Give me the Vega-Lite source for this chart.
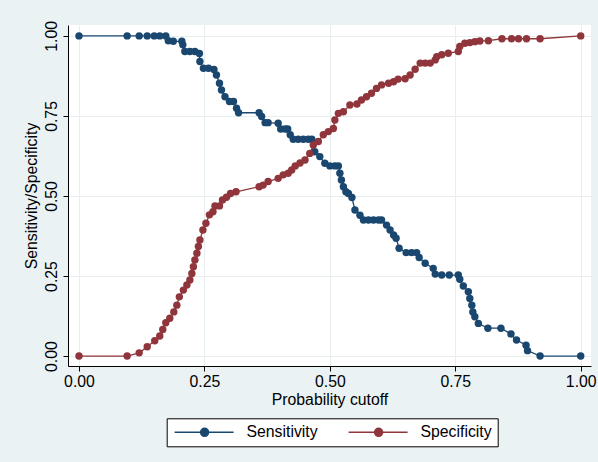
{
  "$schema": "https://vega.github.io/schema/vega-lite/v6.json",
  "width": 523,
  "height": 341,
  "autosize": "none",
  "padding": {"left": 68, "top": 25, "right": 7, "bottom": 96},
  "background": "#EAF2F3",
  "view": {"fill": "white", "stroke": null},
  "config": {
    "font": "Liberation Sans",
    "axis": {
      "domainColor": "black",
      "domainWidth": 1,
      "tickColor": "black",
      "tickSize": 5,
      "tickWidth": 1,
      "labelFont": "Liberation Sans",
      "labelFontSize": 15.8,
      "labelColor": "black",
      "titleFont": "Liberation Sans",
      "titleFontSize": 15.8,
      "titleFontWeight": "normal",
      "titleColor": "black",
      "gridColor": "#E6EEF0",
      "gridWidth": 1
    }
  },
  "data": {
    "values": [
      {"cutoff": 0, "rate": 1, "curve": "Sensitivity"},
      {"cutoff": 0.096, "rate": 1, "curve": "Sensitivity"},
      {"cutoff": 0.12, "rate": 1, "curve": "Sensitivity"},
      {"cutoff": 0.136, "rate": 1, "curve": "Sensitivity"},
      {"cutoff": 0.150, "rate": 1, "curve": "Sensitivity"},
      {"cutoff": 0.161, "rate": 1, "curve": "Sensitivity"},
      {"cutoff": 0.173, "rate": 1, "curve": "Sensitivity"},
      {"cutoff": 0.178, "rate": 0.985, "curve": "Sensitivity"},
      {"cutoff": 0.188, "rate": 0.983, "curve": "Sensitivity"},
      {"cutoff": 0.205, "rate": 0.983, "curve": "Sensitivity"},
      {"cutoff": 0.207, "rate": 0.972, "curve": "Sensitivity"},
      {"cutoff": 0.211, "rate": 0.951, "curve": "Sensitivity"},
      {"cutoff": 0.221, "rate": 0.951, "curve": "Sensitivity"},
      {"cutoff": 0.231, "rate": 0.951, "curve": "Sensitivity"},
      {"cutoff": 0.240, "rate": 0.945, "curve": "Sensitivity"},
      {"cutoff": 0.241, "rate": 0.920, "curve": "Sensitivity"},
      {"cutoff": 0.248, "rate": 0.899, "curve": "Sensitivity"},
      {"cutoff": 0.258, "rate": 0.899, "curve": "Sensitivity"},
      {"cutoff": 0.269, "rate": 0.895, "curve": "Sensitivity"},
      {"cutoff": 0.274, "rate": 0.878, "curve": "Sensitivity"},
      {"cutoff": 0.280, "rate": 0.852, "curve": "Sensitivity"},
      {"cutoff": 0.284, "rate": 0.831, "curve": "Sensitivity"},
      {"cutoff": 0.291, "rate": 0.810, "curve": "Sensitivity"},
      {"cutoff": 0.300, "rate": 0.795, "curve": "Sensitivity"},
      {"cutoff": 0.308, "rate": 0.795, "curve": "Sensitivity"},
      {"cutoff": 0.314, "rate": 0.774, "curve": "Sensitivity"},
      {"cutoff": 0.318, "rate": 0.760, "curve": "Sensitivity"},
      {"cutoff": 0.359, "rate": 0.760, "curve": "Sensitivity"},
      {"cutoff": 0.364, "rate": 0.748, "curve": "Sensitivity"},
      {"cutoff": 0.371, "rate": 0.729, "curve": "Sensitivity"},
      {"cutoff": 0.377, "rate": 0.729, "curve": "Sensitivity"},
      {"cutoff": 0.397, "rate": 0.727, "curve": "Sensitivity"},
      {"cutoff": 0.402, "rate": 0.709, "curve": "Sensitivity"},
      {"cutoff": 0.411, "rate": 0.709, "curve": "Sensitivity"},
      {"cutoff": 0.416, "rate": 0.709, "curve": "Sensitivity"},
      {"cutoff": 0.421, "rate": 0.691, "curve": "Sensitivity"},
      {"cutoff": 0.427, "rate": 0.677, "curve": "Sensitivity"},
      {"cutoff": 0.437, "rate": 0.677, "curve": "Sensitivity"},
      {"cutoff": 0.447, "rate": 0.677, "curve": "Sensitivity"},
      {"cutoff": 0.457, "rate": 0.677, "curve": "Sensitivity"},
      {"cutoff": 0.464, "rate": 0.677, "curve": "Sensitivity"},
      {"cutoff": 0.470, "rate": 0.638, "curve": "Sensitivity"},
      {"cutoff": 0.480, "rate": 0.623, "curve": "Sensitivity"},
      {"cutoff": 0.490, "rate": 0.602, "curve": "Sensitivity"},
      {"cutoff": 0.500, "rate": 0.594, "curve": "Sensitivity"},
      {"cutoff": 0.510, "rate": 0.594, "curve": "Sensitivity"},
      {"cutoff": 0.517, "rate": 0.594, "curve": "Sensitivity"},
      {"cutoff": 0.520, "rate": 0.571, "curve": "Sensitivity"},
      {"cutoff": 0.523, "rate": 0.550, "curve": "Sensitivity"},
      {"cutoff": 0.527, "rate": 0.529, "curve": "Sensitivity"},
      {"cutoff": 0.532, "rate": 0.513, "curve": "Sensitivity"},
      {"cutoff": 0.537, "rate": 0.508, "curve": "Sensitivity"},
      {"cutoff": 0.544, "rate": 0.495, "curve": "Sensitivity"},
      {"cutoff": 0.550, "rate": 0.456, "curve": "Sensitivity"},
      {"cutoff": 0.560, "rate": 0.440, "curve": "Sensitivity"},
      {"cutoff": 0.567, "rate": 0.425, "curve": "Sensitivity"},
      {"cutoff": 0.577, "rate": 0.425, "curve": "Sensitivity"},
      {"cutoff": 0.587, "rate": 0.425, "curve": "Sensitivity"},
      {"cutoff": 0.597, "rate": 0.425, "curve": "Sensitivity"},
      {"cutoff": 0.603, "rate": 0.425, "curve": "Sensitivity"},
      {"cutoff": 0.613, "rate": 0.409, "curve": "Sensitivity"},
      {"cutoff": 0.620, "rate": 0.394, "curve": "Sensitivity"},
      {"cutoff": 0.627, "rate": 0.378, "curve": "Sensitivity"},
      {"cutoff": 0.632, "rate": 0.368, "curve": "Sensitivity"},
      {"cutoff": 0.638, "rate": 0.337, "curve": "Sensitivity"},
      {"cutoff": 0.652, "rate": 0.323, "curve": "Sensitivity"},
      {"cutoff": 0.663, "rate": 0.323, "curve": "Sensitivity"},
      {"cutoff": 0.673, "rate": 0.323, "curve": "Sensitivity"},
      {"cutoff": 0.678, "rate": 0.308, "curve": "Sensitivity"},
      {"cutoff": 0.690, "rate": 0.290, "curve": "Sensitivity"},
      {"cutoff": 0.706, "rate": 0.274, "curve": "Sensitivity"},
      {"cutoff": 0.710, "rate": 0.256, "curve": "Sensitivity"},
      {"cutoff": 0.723, "rate": 0.253, "curve": "Sensitivity"},
      {"cutoff": 0.738, "rate": 0.253, "curve": "Sensitivity"},
      {"cutoff": 0.756, "rate": 0.253, "curve": "Sensitivity"},
      {"cutoff": 0.759, "rate": 0.240, "curve": "Sensitivity"},
      {"cutoff": 0.766, "rate": 0.219, "curve": "Sensitivity"},
      {"cutoff": 0.776, "rate": 0.201, "curve": "Sensitivity"},
      {"cutoff": 0.779, "rate": 0.180, "curve": "Sensitivity"},
      {"cutoff": 0.783, "rate": 0.159, "curve": "Sensitivity"},
      {"cutoff": 0.785, "rate": 0.138, "curve": "Sensitivity"},
      {"cutoff": 0.789, "rate": 0.123, "curve": "Sensitivity"},
      {"cutoff": 0.796, "rate": 0.102, "curve": "Sensitivity"},
      {"cutoff": 0.815, "rate": 0.087, "curve": "Sensitivity"},
      {"cutoff": 0.841, "rate": 0.087, "curve": "Sensitivity"},
      {"cutoff": 0.861, "rate": 0.069, "curve": "Sensitivity"},
      {"cutoff": 0.872, "rate": 0.050, "curve": "Sensitivity"},
      {"cutoff": 0.891, "rate": 0.034, "curve": "Sensitivity"},
      {"cutoff": 0.894, "rate": 0.017, "curve": "Sensitivity"},
      {"cutoff": 0.919, "rate": 0, "curve": "Sensitivity"},
      {"cutoff": 1.0, "rate": 0, "curve": "Sensitivity"},
      {"cutoff": 0, "rate": 0, "curve": "Specificity"},
      {"cutoff": 0.096, "rate": 0, "curve": "Specificity"},
      {"cutoff": 0.120, "rate": 0.010, "curve": "Specificity"},
      {"cutoff": 0.136, "rate": 0.029, "curve": "Specificity"},
      {"cutoff": 0.151, "rate": 0.048, "curve": "Specificity"},
      {"cutoff": 0.161, "rate": 0.0625, "curve": "Specificity"},
      {"cutoff": 0.167, "rate": 0.083, "curve": "Specificity"},
      {"cutoff": 0.173, "rate": 0.104, "curve": "Specificity"},
      {"cutoff": 0.181, "rate": 0.118, "curve": "Specificity"},
      {"cutoff": 0.189, "rate": 0.138, "curve": "Specificity"},
      {"cutoff": 0.195, "rate": 0.159, "curve": "Specificity"},
      {"cutoff": 0.200, "rate": 0.185, "curve": "Specificity"},
      {"cutoff": 0.208, "rate": 0.206, "curve": "Specificity"},
      {"cutoff": 0.215, "rate": 0.222, "curve": "Specificity"},
      {"cutoff": 0.221, "rate": 0.2375, "curve": "Specificity"},
      {"cutoff": 0.225, "rate": 0.258, "curve": "Specificity"},
      {"cutoff": 0.228, "rate": 0.279, "curve": "Specificity"},
      {"cutoff": 0.231, "rate": 0.300, "curve": "Specificity"},
      {"cutoff": 0.235, "rate": 0.321, "curve": "Specificity"},
      {"cutoff": 0.238, "rate": 0.342, "curve": "Specificity"},
      {"cutoff": 0.241, "rate": 0.3625, "curve": "Specificity"},
      {"cutoff": 0.247, "rate": 0.394, "curve": "Specificity"},
      {"cutoff": 0.253, "rate": 0.415, "curve": "Specificity"},
      {"cutoff": 0.260, "rate": 0.441, "curve": "Specificity"},
      {"cutoff": 0.267, "rate": 0.451, "curve": "Specificity"},
      {"cutoff": 0.271, "rate": 0.469, "curve": "Specificity"},
      {"cutoff": 0.280, "rate": 0.469, "curve": "Specificity"},
      {"cutoff": 0.286, "rate": 0.4875, "curve": "Specificity"},
      {"cutoff": 0.294, "rate": 0.496, "curve": "Specificity"},
      {"cutoff": 0.302, "rate": 0.508, "curve": "Specificity"},
      {"cutoff": 0.313, "rate": 0.513, "curve": "Specificity"},
      {"cutoff": 0.359, "rate": 0.529, "curve": "Specificity"},
      {"cutoff": 0.367, "rate": 0.534, "curve": "Specificity"},
      {"cutoff": 0.377, "rate": 0.545, "curve": "Specificity"},
      {"cutoff": 0.397, "rate": 0.555, "curve": "Specificity"},
      {"cutoff": 0.407, "rate": 0.566, "curve": "Specificity"},
      {"cutoff": 0.417, "rate": 0.571, "curve": "Specificity"},
      {"cutoff": 0.424, "rate": 0.581, "curve": "Specificity"},
      {"cutoff": 0.431, "rate": 0.594, "curve": "Specificity"},
      {"cutoff": 0.4405, "rate": 0.603, "curve": "Specificity"},
      {"cutoff": 0.4505, "rate": 0.6125, "curve": "Specificity"},
      {"cutoff": 0.460, "rate": 0.633, "curve": "Specificity"},
      {"cutoff": 0.467, "rate": 0.659, "curve": "Specificity"},
      {"cutoff": 0.477, "rate": 0.670, "curve": "Specificity"},
      {"cutoff": 0.487, "rate": 0.691, "curve": "Specificity"},
      {"cutoff": 0.497, "rate": 0.701, "curve": "Specificity"},
      {"cutoff": 0.507, "rate": 0.711, "curve": "Specificity"},
      {"cutoff": 0.510, "rate": 0.7375, "curve": "Specificity"},
      {"cutoff": 0.517, "rate": 0.758, "curve": "Specificity"},
      {"cutoff": 0.527, "rate": 0.763, "curve": "Specificity"},
      {"cutoff": 0.540, "rate": 0.784, "curve": "Specificity"},
      {"cutoff": 0.554, "rate": 0.7875, "curve": "Specificity"},
      {"cutoff": 0.563, "rate": 0.800, "curve": "Specificity"},
      {"cutoff": 0.573, "rate": 0.810, "curve": "Specificity"},
      {"cutoff": 0.583, "rate": 0.821, "curve": "Specificity"},
      {"cutoff": 0.593, "rate": 0.836, "curve": "Specificity"},
      {"cutoff": 0.603, "rate": 0.847, "curve": "Specificity"},
      {"cutoff": 0.617, "rate": 0.852, "curve": "Specificity"},
      {"cutoff": 0.627, "rate": 0.857, "curve": "Specificity"},
      {"cutoff": 0.636, "rate": 0.865, "curve": "Specificity"},
      {"cutoff": 0.650, "rate": 0.866, "curve": "Specificity"},
      {"cutoff": 0.660, "rate": 0.878, "curve": "Specificity"},
      {"cutoff": 0.670, "rate": 0.896, "curve": "Specificity"},
      {"cutoff": 0.680, "rate": 0.915, "curve": "Specificity"},
      {"cutoff": 0.690, "rate": 0.915, "curve": "Specificity"},
      {"cutoff": 0.700, "rate": 0.915, "curve": "Specificity"},
      {"cutoff": 0.710, "rate": 0.925, "curve": "Specificity"},
      {"cutoff": 0.713, "rate": 0.935, "curve": "Specificity"},
      {"cutoff": 0.723, "rate": 0.941, "curve": "Specificity"},
      {"cutoff": 0.736, "rate": 0.946, "curve": "Specificity"},
      {"cutoff": 0.756, "rate": 0.951, "curve": "Specificity"},
      {"cutoff": 0.759, "rate": 0.967, "curve": "Specificity"},
      {"cutoff": 0.769, "rate": 0.977, "curve": "Specificity"},
      {"cutoff": 0.779, "rate": 0.979, "curve": "Specificity"},
      {"cutoff": 0.789, "rate": 0.982, "curve": "Specificity"},
      {"cutoff": 0.799, "rate": 0.984, "curve": "Specificity"},
      {"cutoff": 0.816, "rate": 0.985, "curve": "Specificity"},
      {"cutoff": 0.843, "rate": 0.991, "curve": "Specificity"},
      {"cutoff": 0.862, "rate": 0.991, "curve": "Specificity"},
      {"cutoff": 0.876, "rate": 0.991, "curve": "Specificity"},
      {"cutoff": 0.892, "rate": 0.991, "curve": "Specificity"},
      {"cutoff": 0.919, "rate": 0.991, "curve": "Specificity"},
      {"cutoff": 1.0, "rate": 1.0, "curve": "Specificity"}
    ]
  },
  "encoding": {
    "x": {
      "field": "cutoff",
      "type": "quantitative",
      "title": "Probability cutoff",
      "scale": {"domain": [-0.0219, 1.0205], "nice": false, "zero": false},
      "axis": {"values": [0, 0.25, 0.5, 0.75, 1], "format": ".2f", "labelPadding": 3, "titlePadding": 4, "labelFlush": false}
    },
    "y": {
      "field": "rate",
      "type": "quantitative",
      "title": "Sensitivity/Specificity",
      "scale": {"domain": [-0.031, 1.034], "nice": false, "zero": false},
      "axis": {"values": [0, 0.25, 0.5, 0.75, 1], "format": ".2f", "labelAngle": 270, "labelAlign": "center", "labelBaseline": "bottom", "labelPadding": 4, "titlePadding": 4, "labelFlush": false}
    },
    "color": {
      "field": "curve",
      "type": "nominal",
      "scale": {"domain": ["Sensitivity", "Specificity"], "range": ["#1A476F", "#90353B"]},
      "legend": {
        "orient": "none",
        "legendX": 98.7,
        "legendY": 393.3,
        "direction": "horizontal",
        "title": null,
        "strokeColor": "black",
        "fillColor": "white",
        "padding": 6,
        "symbolType": "M-1.2,0H10.6M5.6,0A0.8,0.8,0,1,1,4,0A0.8,0.8,0,1,1,5.6,0Z",
        "symbolSize": 100,
        "symbolStrokeWidth": 1.5,
        "symbolOpacity": 1,
        "labelOffset": 58,
        "columnPadding": 27,
        "labelFont": "Liberation Sans",
        "labelFontSize": 15.8,
        "labelColor": "black",
        "encode": {
          "symbols": {
            "update": {
              "fill": {"scale": "color", "field": "value"},
              "stroke": {"scale": "color", "field": "value"},
              "opacity": {"value": 1}
            }
          }
        }
      }
    }
  },
  "layer": [
    {"mark": {"type": "line", "strokeWidth": 1.3}},
    {"mark": {"type": "point", "filled": true, "size": 55, "opacity": 1}}
  ]
}
